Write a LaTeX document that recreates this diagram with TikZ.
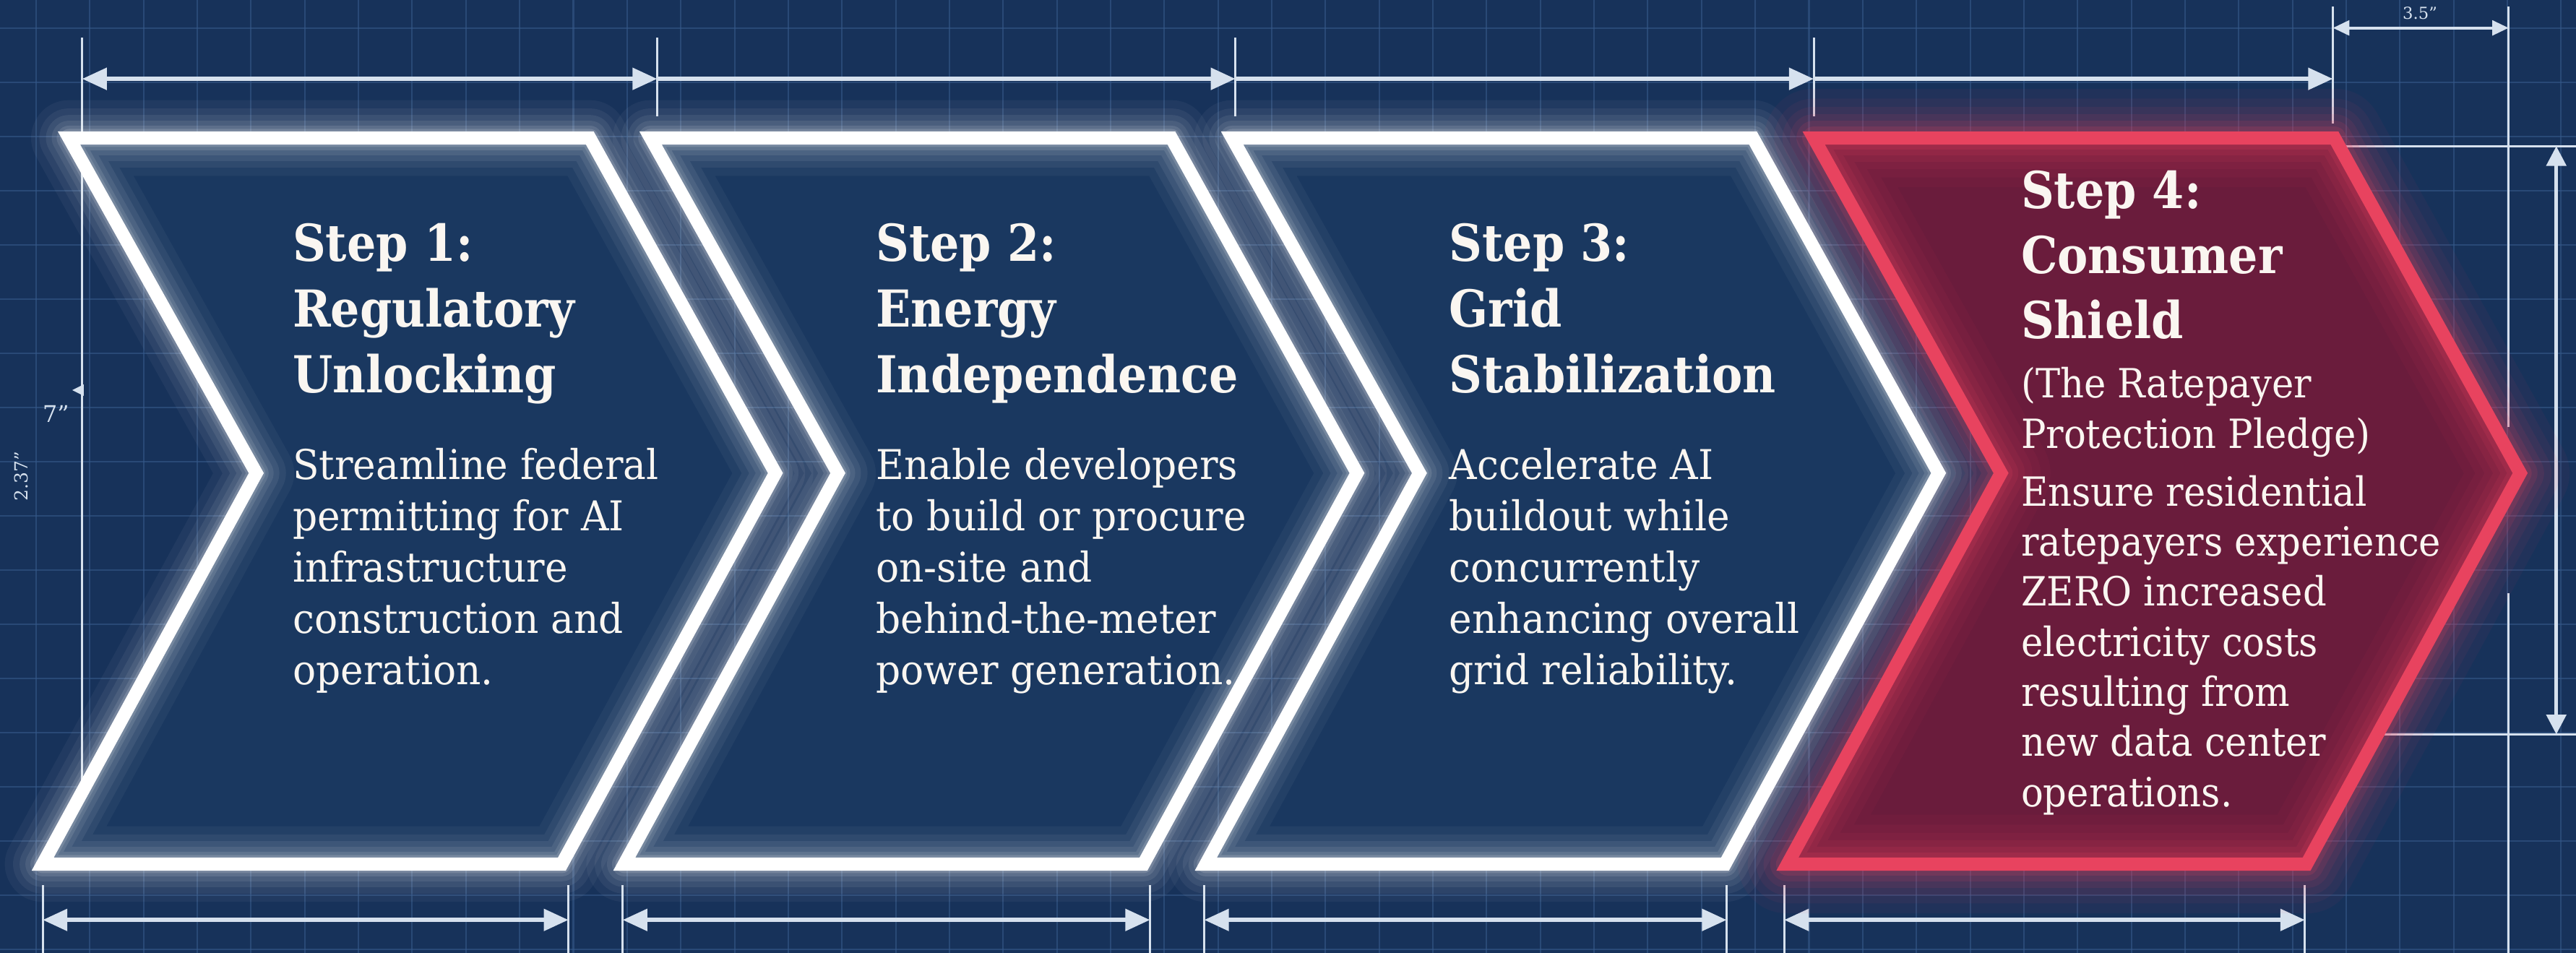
\documentclass[tikz,border=0pt]{standalone}
\usepackage{fontspec}
\setmainfont{DejaVu Serif}
\newfontfamily\ttlfont{DejaVu Serif}[FakeStretch=0.9]
\newfontfamily\bodyfont{DejaVu Serif}[FakeStretch=0.94]
\newfontfamily\bodyfontb{DejaVu Serif}[FakeStretch=0.92]
\usetikzlibrary{arrows.meta}
\definecolor{bgc}{HTML}{17325A}
\definecolor{gridc}{HTML}{35598A}
\definecolor{chevfill}{HTML}{1A3860}
\definecolor{redline}{HTML}{E8435F}
\definecolor{redfill}{HTML}{6A1C3C}
\definecolor{dimc}{HTML}{D6E1EE}
\definecolor{txtc}{HTML}{FAF6F1}
\newcommand\chevron[1]{(#1+2,84) -- (#1+319,84) -- (#1+432,288) -- (#1+302,526) -- (#1-14,526) -- (#1+116,288) -- cycle}
\tikzset{
  gridline/.style={draw=gridc, line width=0.9pt, opacity=0.6},
  extline/.style={draw=dimc, line width=1.3pt},
  dimline/.style={draw=dimc, line width=2.6pt, >={Triangle[length=15pt,width=13pt]}},
  dimthin/.style={draw=dimc, line width=1.8pt, >={Triangle[length=10pt,width=9pt]}},
  dimvert/.style={draw=dimc, line width=2pt, >={Triangle[length=12pt,width=12pt]}},
  dimlabel/.style={text=dimc, inner sep=0pt, font=\fontsize{10}{12}\selectfont},
  ttl/.style={text=txtc, inner sep=0pt, anchor=base west, font=\ttlfont\bfseries\fontsize{31}{36}\selectfont},
  body/.style={text=txtc, inner sep=0pt, anchor=base west, font=\bodyfont\fontsize{25}{30}\selectfont},
  bodyb/.style={text=txtc, inner sep=0pt, anchor=base west, font=\bodyfontb\fontsize{24.5}{30}\selectfont},
  chevborder/.style={draw=white, line width=8pt, line join=miter, miter limit=10},
  redborder/.style={draw=redline, line width=8pt, line join=miter, miter limit=10},
}
\begin{document}
\begin{tikzpicture}[x=1pt,y=-1pt]
\useasboundingbox (0,0) rectangle (1568,580);
\fill[bgc] (0,0) rectangle (1568,580);
% grid
\foreach \k in {0,...,47} \draw[gridline] ({22+32.7*\k},0) -- ({22+32.7*\k},580);
\foreach \k in {0,...,17} \draw[gridline] (0,{17+33*\k}) -- (1568,{17+33*\k});
% structural / extension lines
\draw[extline] (50,23) -- (50,530);
\foreach \x in {400,752,1104} \draw[extline] (\x,23) -- (\x,71);
\draw[extline] (1420,4) -- (1420,75);
\draw[extline] (1527,4) -- (1527,260);
\draw[extline] (1527,361) -- (1527,580);
\draw[extline] (1428,89) -- (1568,89);
\draw[extline] (1450,447) -- (1568,447);
\foreach \x in {26,346,379,700,733,1051,1086,1403} \draw[extline] (\x,539) -- (\x,580);
\fill[dimc] (44,237.5) -- (51,234) -- (51,241) -- cycle;
% top dimension chain
\coordinate (t0) at (50,48);
\coordinate (t1) at (400,48);
\coordinate (t2) at (752,48);
\coordinate (t3) at (1104,48);
\coordinate (t4) at (1420,48);
\draw[dimline,<->] (t0) -- (t1);
\draw[dimline,->] (t1) -- (t2);
\draw[dimline,->] (t2) -- (t3);
\draw[dimline,->] (t3) -- (t4);
% small top-right dimension
\coordinate (s0) at (1420,17);
\coordinate (s1) at (1527,17);
\draw[dimthin,<->] (s0) -- (s1);
\node[dimlabel] (lab35) at (1473,8) {3.5"};
% right vertical dimension
\coordinate (r0) at (1556,89);
\coordinate (r1) at (1556,447);
\draw[dimvert,<->] (r0) -- (r1);
% bottom dimensions
\coordinate (b1a) at (26,560);  \coordinate (b1b) at (346,560);
\coordinate (b2a) at (379,560); \coordinate (b2b) at (700,560);
\coordinate (b3a) at (733,560); \coordinate (b3b) at (1051,560);
\coordinate (b4a) at (1086,560); \coordinate (b4b) at (1403,560);
\draw[dimline,<->] (b1a) -- (b1b);
\draw[dimline,<->] (b2a) -- (b2b);
\draw[dimline,<->] (b3a) -- (b3b);
\draw[dimline,<->] (b4a) -- (b4b);
% left labels
\node[dimlabel, font=\fontsize{14}{15}\selectfont] (lab7) at (34,252) {7"};
\node[dimlabel, rotate=90, font=\fontsize{11}{12}\selectfont] (lab237) at (13,290) {2.37"};
% chevron fills
\foreach \x in {40,394,748} \fill[chevfill] \chevron{\x};
\fill[redfill] \chevron{1102};
% glows
\foreach \x in {40,394,748} {
  \foreach \w/\o in {46/0.045,36/0.055,28/0.07,21/0.08,15/0.11,11/0.15}
    \draw[white, line width=\w pt, opacity=\o, line join=round] \chevron{\x};
}
\foreach \w/\o in {60/0.05,48/0.06,38/0.07,29/0.09,21/0.12,14/0.16}
  \draw[redline, line width=\w pt, opacity=\o, line join=round] \chevron{1102};
% borders
\foreach \x in {40,394,748} \draw[chevborder] \chevron{\x};
\draw[redborder] \chevron{1102};
% texts: step 1
\foreach \t [count=\i from 0] in {Step 1:, Regulatory, Unlocking}
  \node[ttl] (ta\i) at (178,{159+40*\i}) {\t};
\foreach \t [count=\i from 0] in {Streamline federal, permitting for AI, infrastructure, construction and, operation.}
  \node[body] (ba\i) at (178,{292+31.2*\i}) {\t};
% step 2
\foreach \t [count=\i from 0] in {Step 2:, Energy, Independence}
  \node[ttl] (tb\i) at (533,{159+40*\i}) {\t};
\foreach \t [count=\i from 0] in {Enable developers, to build or procure, on-site and, behind-the-meter, power generation.}
  \node[body] (bb\i) at (533,{292+31.2*\i}) {\t};
% step 3
\foreach \t [count=\i from 0] in {Step 3:, Grid, Stabilization}
  \node[ttl] (tc\i) at (882,{159+40*\i}) {\t};
\foreach \t [count=\i from 0] in {Accelerate AI, buildout while, concurrently, enhancing overall, grid reliability.}
  \node[body] (bc\i) at (882,{292+31.2*\i}) {\t};
% step 4
\foreach \t [count=\i from 0] in {Step 4:, Consumer, Shield}
  \node[ttl] (td\i) at (1230,{127+39.5*\i}) {\t};
\node[bodyb] (sd0) at (1230,242) {(The Ratepayer};
\node[bodyb] (sd1) at (1230,273) {Protection Pledge)};
\foreach \t [count=\i from 0] in {Ensure residential, ratepayers experience, ZERO increased, electricity costs, resulting from, new data center, operations.}
  \node[bodyb] (bd\i) at (1230,{308+30.5*\i}) {\t};
\end{tikzpicture}
\end{document}
